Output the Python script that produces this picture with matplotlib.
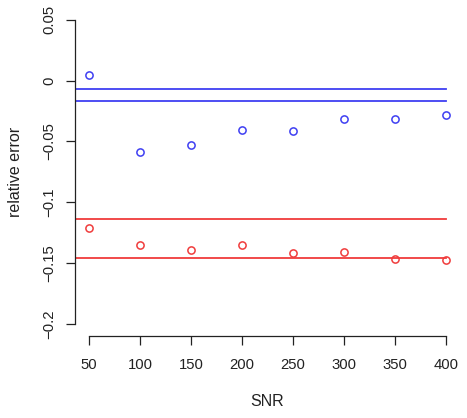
import numpy as np
import matplotlib.pyplot as plt

plt.rcParams['font.family'] = ['Liberation Sans', 'DejaVu Sans']
plt.rcParams['axes.unicode_minus'] = True

# data
snr = [50, 100, 150, 200, 250, 300, 350, 400]
blue_err = [0.0047, -0.0584, -0.0531, -0.0403, -0.0414, -0.0318, -0.0318, -0.0285]
red_err = [-0.1209, -0.1354, -0.1390, -0.1349, -0.1420, -0.1409, -0.1469, -0.1475]
blue_lines = [-0.0066, -0.0167]
red_lines = [-0.1137, -0.1456]
yticks = [-0.2, -0.15, -0.1, -0.05, 0, 0.05]
ytick_labels = ['\u22120.2', '\u22120.15', '\u22120.1', '\u22120.05', '0', '0.05']

blue = '#3f3ff2'
red = '#f03c3c'
txt = '#222222'

fig = plt.figure(figsize=(4.67, 4.18), dpi=100)
ax = fig.add_axes([0.1606, 0.196, 0.985 - 0.1606, 0.9816 - 0.196])

# R-style 4% axis extension
span_x = snr[-1] - snr[0]
x0, x1 = snr[0] - 0.04 * span_x, snr[-1] + 0.04 * span_x
span_y = yticks[-1] - yticks[0]
ax.set_xlim(x0, x1)
ax.set_ylim(yticks[0] - 0.04 * span_y, yticks[-1] + 0.04 * span_y)

for v in blue_lines:
    ax.plot([x0, snr[-1]], [v, v], color=blue, lw=1.3)
for v in red_lines:
    ax.plot([x0, snr[-1]], [v, v], color=red, lw=1.3)

ax.plot(snr, blue_err, 'o', mfc='none', mec=blue, ms=5.2, mew=1.1)
ax.plot(snr, red_err, 'o', mfc='none', mec=red, ms=5.2, mew=1.1)

ax.spines['top'].set_visible(False)
ax.spines['right'].set_visible(False)
ax.spines['left'].set_bounds(yticks[0], yticks[-1])
ax.spines['bottom'].set_bounds(snr[0], snr[-1])
for s in ['left', 'bottom']:
    ax.spines[s].set_color(txt)
    ax.spines[s].set_linewidth(0.9)

ax.set_xticks(snr)
ax.set_xticklabels([str(s) for s in snr])
ax.set_yticks(yticks)
ax.set_yticklabels(ytick_labels, rotation=90, va='center')
ax.tick_params(axis='both', length=6.5, width=0.9, color=txt, labelcolor=txt,
               labelsize=10.7)
ax.tick_params(axis='x', pad=9)
ax.tick_params(axis='y', pad=7)

ax.set_xlabel('SNR', fontsize=11.5, color=txt, labelpad=16)
ax.set_ylabel('relative error', fontsize=11.5, color=txt, labelpad=14)

fig.savefig('out.png', dpi=100)
